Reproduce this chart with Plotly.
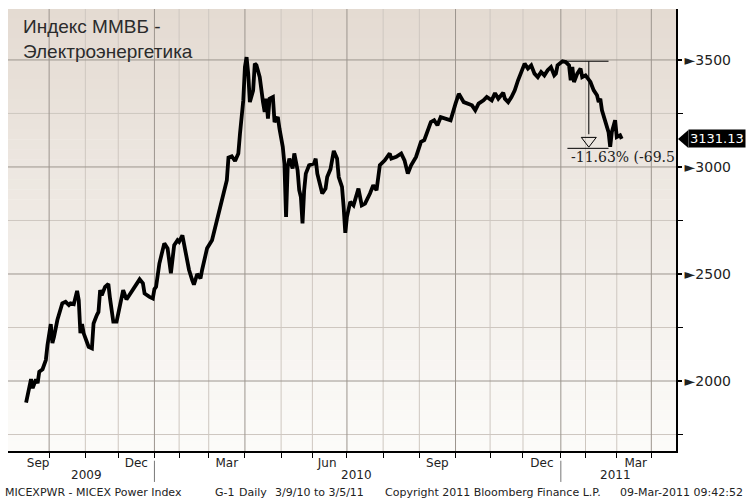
import plotly.graph_objects as go

# ---------------- data ----------------
dates = [
    "2009-09-11", "2009-09-16", "2009-09-17", "2009-09-21", "2009-09-22", "2009-09-23", "2009-09-25", "2009-09-29", "2009-09-30",
    "2009-10-01", "2009-10-02", "2009-10-05", "2009-10-06", "2009-10-08", "2009-10-13", "2009-10-15", "2009-10-19", "2009-10-20",
    "2009-10-22", "2009-10-26", "2009-10-27", "2009-10-28", "2009-10-29", "2009-10-30",
    "2009-11-05", "2009-11-09", "2009-11-10", "2009-11-12", "2009-11-13", "2009-11-16", "2009-11-17", "2009-11-19", "2009-11-23",
    "2009-11-24", "2009-11-26", "2009-11-30",
    "2009-12-02", "2009-12-04", "2009-12-08", "2009-12-11", "2009-12-16", "2009-12-18", "2009-12-22", "2009-12-23", "2009-12-28", "2009-12-30",
    "2010-01-11", "2010-01-12", "2010-01-14", "2010-01-19", "2010-01-21", "2010-01-25", "2010-01-27", "2010-01-29",
    "2010-02-01", "2010-02-03", "2010-02-05", "2010-02-09", "2010-02-11", "2010-02-12", "2010-02-16", "2010-02-18", "2010-02-19",
    "2010-02-24", "2010-02-26",
    "2010-03-03", "2010-03-10", "2010-03-12", "2010-03-17", "2010-03-18", "2010-03-22", "2010-03-24", "2010-03-26", "2010-03-29", "2010-03-31",
    "2010-04-01", "2010-04-02", "2010-04-05", "2010-04-06", "2010-04-08", "2010-04-09", "2010-04-12", "2010-04-14", "2010-04-16",
    "2010-04-19", "2010-04-20", "2010-04-21", "2010-04-22", "2010-04-26", "2010-04-27", "2010-04-29", "2010-04-30",
    "2010-05-05", "2010-05-06", "2010-05-07", "2010-05-11", "2010-05-12", "2010-05-14", "2010-05-17", "2010-05-19", "2010-05-20",
    "2010-05-21", "2010-05-24", "2010-05-25", "2010-05-26", "2010-05-28",
    "2010-06-02", "2010-06-03", "2010-06-04", "2010-06-09", "2010-06-11", "2010-06-15", "2010-06-17", "2010-06-21", "2010-06-23",
    "2010-06-24", "2010-06-28", "2010-06-29", "2010-06-30",
    "2010-07-01", "2010-07-05", "2010-07-07", "2010-07-12", "2010-07-14", "2010-07-16", "2010-07-21", "2010-07-23", "2010-07-27", "2010-07-29",
    "2010-08-03", "2010-08-06", "2010-08-09", "2010-08-12", "2010-08-17", "2010-08-19", "2010-08-23", "2010-08-25", "2010-08-30",
    "2010-09-02", "2010-09-06", "2010-09-08", "2010-09-10", "2010-09-14", "2010-09-16", "2010-09-20", "2010-09-23", "2010-09-28",
    "2010-10-01", "2010-10-05", "2010-10-08", "2010-10-12", "2010-10-15", "2010-10-19", "2010-10-21", "2010-10-26", "2010-10-28",
    "2010-11-02", "2010-11-08", "2010-11-10", "2010-11-15", "2010-11-16", "2010-11-18", "2010-11-22", "2010-11-24", "2010-11-26", "2010-11-30",
    "2010-12-02", "2010-12-06", "2010-12-08", "2010-12-10", "2010-12-14", "2010-12-16", "2010-12-20", "2010-12-22", "2010-12-24",
    "2010-12-28", "2010-12-29", "2010-12-30",
    "2011-01-12", "2011-01-14", "2011-01-18", "2011-01-19", "2011-01-20", "2011-01-21", "2011-01-25", "2011-01-27", "2011-01-28",
    "2011-02-01", "2011-02-04", "2011-02-08", "2011-02-10", "2011-02-11", "2011-02-14", "2011-02-15", "2011-02-17", "2011-02-21",
    "2011-02-22", "2011-02-24", "2011-02-28",
    "2011-03-01", "2011-03-03", "2011-03-04",
]
values = [
    1899, 2009, 1967, 2008, 1990, 2043, 2055, 2098, 2168,
    2224, 2266, 2177, 2207, 2285, 2363, 2370, 2355, 2363,
    2359, 2421, 2378, 2223, 2266, 2223,
    2160, 2153, 2269, 2308, 2323, 2425, 2401, 2440, 2453,
    2386, 2277, 2277,
    2347, 2425, 2381, 2417, 2456, 2475, 2456, 2409, 2393, 2386,
    2430, 2440, 2549, 2643, 2619, 2503, 2635, 2658,
    2650, 2680, 2600, 2520, 2470, 2450, 2500, 2480, 2520,
    2560, 2620,
    2658, 2783, 2829, 2938, 3044, 3050, 3028, 3063, 3156, 3311,
    3467, 3513, 3436, 3303, 3358, 3483, 3475, 3420, 3303,
    3257, 3319, 3226, 3319, 3327, 3210, 3233, 3179,
    3094, 3016, 2767, 3000, 3039, 2993, 3063, 2985, 2891,
    2860, 2736, 2891, 2969, 3008,
    3016, 3039, 2969, 2876, 2899, 2953, 2990, 3075, 3040,
    2953, 2907, 2813, 2692,
    2767, 2837, 2821, 2899, 2821, 2829, 2876, 2915, 2891, 3008,
    3031, 3063, 3039, 3047, 3063, 3031, 2969, 3008, 3047,
    3117, 3125, 3171, 3210, 3218, 3195, 3233, 3226, 3218,
    3296, 3342, 3303, 3296, 3288, 3265, 3296, 3311, 3327,
    3311, 3345, 3319, 3347, 3319, 3303, 3327, 3358, 3405, 3444,
    3483, 3460, 3475, 3436, 3420, 3444, 3428, 3452, 3467,
    3428, 3436, 3475,
    3494, 3490, 3475, 3405, 3467, 3397, 3436, 3460, 3420,
    3428, 3397, 3358, 3335, 3303, 3319, 3265, 3218, 3163,
    3094, 3163, 3218,
    3140, 3148, 3131.13,
]

holidays = [
    "2009-11-04", "2009-12-31",
    "2010-01-01", "2010-01-04", "2010-01-05", "2010-01-06", "2010-01-07", "2010-01-08",
    "2010-02-22", "2010-02-23", "2010-03-08", "2010-05-03", "2010-05-10", "2010-06-14",
    "2010-11-04", "2010-11-05",
    "2011-01-03", "2011-01-04", "2011-01-05", "2011-01-06", "2011-01-07", "2011-01-10",
    "2011-02-23", "2011-03-07", "2011-03-08",
]

month_label_dates = ["2009-09-22 08:00", "2009-12-16", "2010-03-17", "2010-06-15",
                     "2010-09-16", "2010-12-16 12:00", "2011-03-18 12:00"]
month_labels = ["Sep", "Dec", "Mar", "Jun", "Sep", "Dec", "Mar"]
month_starts = ["2009-10-01", "2009-11-02", "2009-12-01", "2010-01-11", "2010-02-01", "2010-03-01",
                "2010-04-01", "2010-05-04", "2010-06-01", "2010-07-01", "2010-08-02", "2010-09-01",
                "2010-10-01", "2010-11-01", "2010-12-01", "2011-01-11", "2011-02-01", "2011-03-01",
                "2011-04-01"]
quarter_starts = ["2009-10-01", "2010-01-11", "2010-04-01", "2010-07-01", "2010-10-01", "2011-01-11", "2011-04-01"]
year_labels = ["2009", "2010", "2011"]
year_label_pos = [0.117, 0.522, 0.909]
year_starts = ["2010-01-11", "2011-01-11"]

y_major = [2000, 2500, 3000, 3500]
y_minor = [1750, 2250, 2750, 3250]
y_range = [1673, 3738]
x_range = ["2009-08-27", "2011-04-22"]

last_value = values[-1]
dd_high, dd_low = 3494, 3087
dd_text = "-11.63% (-69.5"

MAJ_GRID = "#9c958e"
MIN_GRID = "#cec7c0"

# ---------------- figure ----------------
fig = go.Figure()


def grid_trace(xs, ys, color):
    fig.add_trace(go.Scatter(x=xs, y=ys, mode="lines", line=dict(color=color, width=1),
                             hoverinfo="skip", showlegend=False))


# gridlines (background traces, under the index line)
gx, gy = [], []
for v in y_minor:
    gx += [x_range[0], x_range[1], None]
    gy += [v, v, None]
grid_trace(gx, gy, MIN_GRID)
gx, gy = [], []
for d in month_starts:
    if d not in quarter_starts:
        gx += [d, d, None]
        gy += [y_range[0], y_range[1], None]
grid_trace(gx, gy, MIN_GRID)
gx, gy = [], []
for v in y_major:
    gx += [x_range[0], x_range[1], None]
    gy += [v, v, None]
grid_trace(gx, gy, MAJ_GRID)
gx, gy = [], []
for d in quarter_starts:
    gx += [d, d, None]
    gy += [y_range[0], y_range[1], None]
grid_trace(gx, gy, MAJ_GRID)

# index line
fig.add_trace(go.Scatter(x=dates, y=values, mode="lines",
                         line=dict(color="black", width=3.8),
                         hoverinfo="skip", showlegend=False))

# open triangle of drawdown marker
fig.add_trace(go.Scatter(x=["2011-02-03"], y=[dd_low + 36], mode="markers",
                         marker=dict(symbol="triangle-down-open", size=13,
                                     color="black", line=dict(width=1, color="black")),
                         hoverinfo="skip", showlegend=False))

shapes = []
# gradient background
N = 44
top = (228, 219, 210)
bot = (252, 251, 249)
span = y_range[1] - y_range[0]
for i in range(N):
    t = i / (N - 1)
    c = tuple(round(top[k] + (bot[k] - top[k]) * t) for k in range(3))
    shapes.append(dict(type="rect", xref="x", yref="y", x0=x_range[0], x1=x_range[1],
                       y0=y_range[1] - span * (i + 1) / N, y1=y_range[1] - span * i / N + 2,
                       fillcolor="rgb(%d,%d,%d)" % c, line=dict(width=0), layer="below"))
# year separators
for ys in year_starts:
    shapes.append(dict(type="line", xref="x", yref="paper", x0=ys, x1=ys, y0=-0.022, y1=-0.07,
                       line=dict(color="#777777", width=1)))
# drawdown lines
shapes.append(dict(type="line", xref="x", yref="y", x0="2011-01-11", x1="2011-02-21",
                   y0=dd_high, y1=dd_high, line=dict(color="black", width=1)))
shapes.append(dict(type="line", xref="x", yref="y", x0="2011-01-17", x1="2011-02-21",
                   y0=dd_low, y1=dd_low, line=dict(color="black", width=1)))
shapes.append(dict(type="line", xref="x", yref="y", x0="2011-02-03", x1="2011-02-03",
                   y0=dd_high, y1=dd_low + 66, line=dict(color="black", width=1)))
# last value tag pointer
shapes.append(dict(type="path", xref="paper", yref="y",
                   path="M 1.003,%f L 1.0185,%f L 1.0185,%f Z" % (last_value, last_value + 42, last_value - 42),
                   fillcolor="black", line=dict(width=0)))

annotations = [
    dict(text="Индекс ММВБ -", xref="paper", yref="paper", x=0.019, y=0.960, xanchor="left",
         yanchor="middle", showarrow=False, font=dict(family="Liberation Sans", size=19, color="#2b2b2b")),
    dict(text="Электроэнергетика", xref="paper", yref="paper", x=0.019, y=0.904, xanchor="left",
         yanchor="middle", showarrow=False, font=dict(family="Liberation Sans", size=19, color="#2b2b2b")),
    dict(text=dd_text, xref="x", yref="y", x="2011-01-18", y=3047, xanchor="left", yanchor="middle",
         showarrow=False, font=dict(family="DejaVu Serif", size=14, color="#222222")),
    dict(text="3131.13", xref="paper", yref="y", x=1.0175, y=last_value, xanchor="left", yanchor="middle",
         showarrow=False, bgcolor="black", borderpad=1,
         font=dict(family="DejaVu Sans", size=13, color="white")),
]
for lab, pos in zip(year_labels, year_label_pos):
    annotations.append(dict(text=lab, xref="paper", yref="paper", x=pos, y=-0.054, xanchor="center",
                            yanchor="middle", showarrow=False,
                            font=dict(family="DejaVu Sans", size=12, color="#222222")))

footer = [("MICEXPWR - MICEX Power Index", -0.0075, "left"),
          ("G-1", 0.307, "left"),
          ("Daily", 0.343, "left"),
          ("3/9/10 to 3/5/11", 0.396, "left"),
          ("Copyright 2011 Bloomberg Finance L.P.", 0.561, "left"),
          ("09-Mar-2011 09:42:52", 1.103, "right")]
for txt, pos, anc in footer:
    annotations.append(dict(text=txt, xref="paper", yref="paper", x=pos, y=-0.095, xanchor=anc,
                            yanchor="middle", showarrow=False,
                            font=dict(family="DejaVu Sans", size=11, color="#222222")))

fig.update_layout(
    width=746, height=502,
    margin=dict(l=8, r=70, t=9, b=51),
    paper_bgcolor="white", plot_bgcolor="white",
    shapes=shapes, annotations=annotations,
    xaxis=dict(
        type="date", range=x_range,
        rangebreaks=[dict(bounds=["sat", "mon"]), dict(values=holidays)],
        tickmode="array", tickvals=month_label_dates, ticktext=month_labels,
        ticks="", showgrid=False, zeroline=False,
        showline=True, linecolor="black", linewidth=1.5,
        tickfont=dict(family="DejaVu Sans", size=12, color="#222222"),
        minor=dict(tickmode="array", tickvals=month_starts, ticks="outside", ticklen=5,
                   tickcolor="black", tickwidth=1, showgrid=False),
    ),
    yaxis=dict(
        side="right", range=y_range,
        tickmode="array", tickvals=y_major, ticktext=["►%d" % v for v in y_major],
        ticks="outside", ticklen=4, tickwidth=1.5, tickcolor="black",
        showgrid=False, zeroline=False, showline=True, linecolor="black", linewidth=1.5,
        tickfont=dict(family="DejaVu Sans", size=14, color="#222222"),
        minor=dict(tickmode="array", tickvals=y_minor, ticks="outside", ticklen=5,
                   tickcolor="black", tickwidth=1, showgrid=False),
    ),
)

fig.write_html("out.html")
